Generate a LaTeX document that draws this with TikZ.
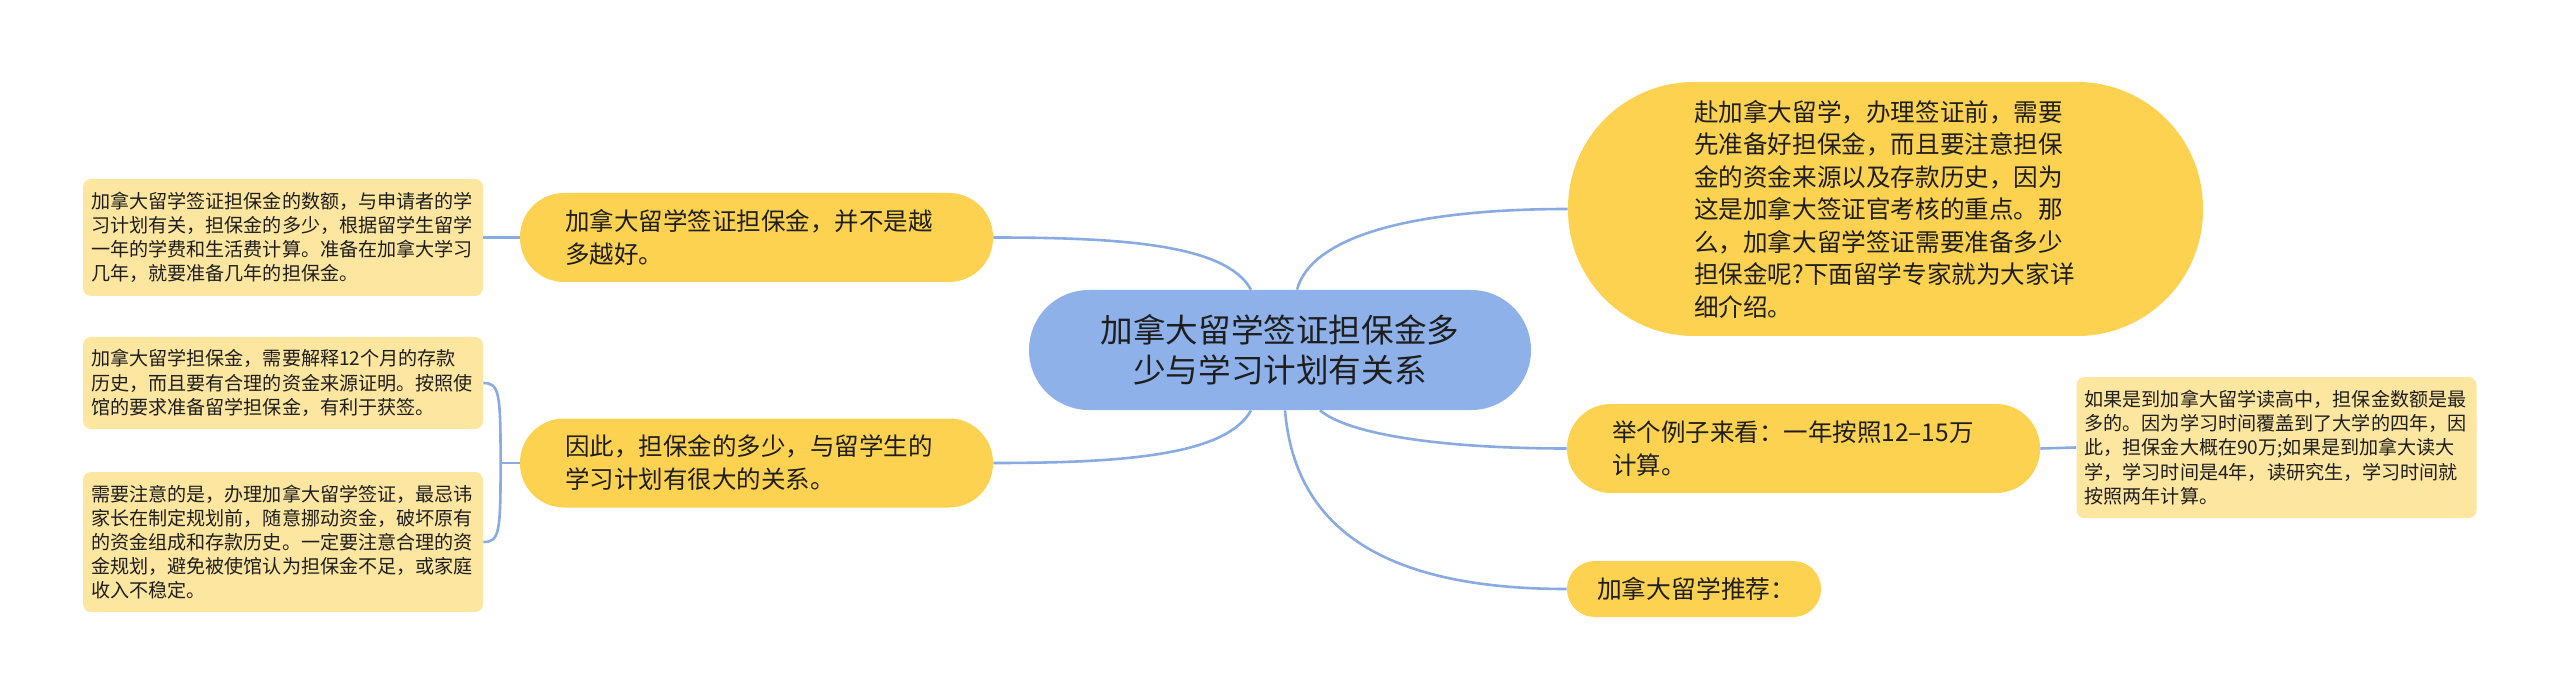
\documentclass[tikz,border=0pt]{standalone}
\usepackage{fontspec}
\setmainfont{Noto Sans CJK SC}
\definecolor{topicblue}{RGB}{142,177,234}
\definecolor{branchyellow}{RGB}{253,210,80}
\definecolor{leafyellow}{RGB}{253,230,160}
\definecolor{linkblue}{RGB}{138,170,226}
\definecolor{inkgray}{RGB}{30,30,30}
\tikzset{
  topic/.style={fill=topicblue, rounded corners=29.9pt, minimum width=251pt, minimum height=60pt, align=center, text=inkgray, font=\fontsize{16.3pt}{20pt}\selectfont},
  branch/.style={fill=branchyellow, rounded corners=22pt, text width=191.5pt, inner xsep=22.5pt, minimum height=44.5pt, align=left, text=inkgray, font=\fontsize{12.25pt}{16.5pt}\selectfont},
  intro/.style={branch, rounded corners=63pt, inner xsep=63pt, minimum height=127pt, font=\fontsize{12.3pt}{16.25pt}\selectfont},
  leaf/.style={fill=leafyellow, rounded corners=4pt, text width=192pt, inner xsep=4pt, align=left, text=inkgray, font=\fontsize{9.55pt}{12.1pt}\selectfont},
  link/.style={draw=linkblue, line width=1.3pt}
}
\begin{document}
\begin{tikzpicture}[x=0.5pt,y=-0.5pt]
  \fill[white] (0,0) rectangle (2560,700);
  \node[topic] (hub) at (1280,350) {加拿大留学签证担保金多\\少与学习计划有关系};
  \node[branch] (amount) at (756.5,237.5) {加拿大留学签证担保金，并不是越\\多越好。};
  \node[branch] (plan) at (756.5,463) {因此，担保金的多少，与留学生的\\学习计划有很大的关系。};
  \node[intro] (intro) at (1885.5,209) {赴加拿大留学，办理签证前，需要\\先准备好担保金，而且要注意担保\\金的资金来源以及存款历史，因为\\这是加拿大签证官考核的重点。那\\么，加拿大留学签证需要准备多少\\担保金呢?下面留学专家就为大家详\\细介绍。};
  \node[branch] (example) at (1803.5,448.5) {举个例子来看：一年按照12–15万\\计算。};
  \node[branch, text width=97pt, inner xsep=15pt, minimum height=28pt, rounded corners=13.9pt, font=\fontsize{12.4pt}{16pt}\selectfont] (recommend) at (1694,589) {加拿大留学推荐：};
  \node[leaf, minimum height=58.5pt] (amountnote) at (283,237.5) {加拿大留学签证担保金的数额，与申请者的学\\习计划有关，担保金的多少，根据留学生留学\\一年的学费和生活费计算。准备在加拿大学习\\几年，就要准备几年的担保金。};
  \node[leaf, minimum height=46pt] (depositnote) at (283,383) {加拿大留学担保金，需要解释12个月的存款\\历史，而且要有合理的资金来源证明。按照使\\馆的要求准备留学担保金，有利于获签。};
  \node[leaf, minimum height=70pt] (warnnote) at (283,542) {需要注意的是，办理加拿大留学签证，最忌讳\\家长在制定规划前，随意挪动资金，破坏原有\\的资金组成和存款历史。一定要注意合理的资\\金规划，避免被使馆认为担保金不足，或家庭\\收入不稳定。};
  \node[leaf, minimum height=70.5pt] (examplenote) at (2276.5,447.5) {如果是到加拿大留学读高中，担保金数额是最\\多的。因为学习时间覆盖到了大学的四年，因\\此，担保金大概在90万;如果是到加拿大读大\\学，学习时间是4年，读研究生，学习时间就\\按照两年计算。};
  \draw[link] ([xshift=-14.5pt]hub.north) .. controls +(-25,-45) and +(130,0) .. (amount.east);
  \draw[link] ([xshift=8.5pt]hub.north) .. controls +(15,-55) and +(-150,0) .. (intro.west);
  \draw[link] ([xshift=-14.5pt]hub.south) .. controls +(-25,45) and +(130,0) .. (plan.east);
  \draw[link] ([xshift=20pt]hub.south) .. controls +(30,25) and +(-120,0) .. (example.west);
  \draw[link] ([xshift=2.5pt]hub.south) .. controls +(10,120) and +(-180,0) .. (recommend.west);
  \draw[link] (amount.west) -- (amountnote.east);
  \draw[link] (plan.west) -- ++(-19,0) coordinate (fork);
  \draw[link] (fork) .. controls +(0,-70) and +(16,0) .. (depositnote.east);
  \draw[link] (fork) .. controls +(0,70) and +(16,0) .. (warnnote.east);
  \draw[link] (example.east) -- (examplenote.west);
\end{tikzpicture}
\end{document}
